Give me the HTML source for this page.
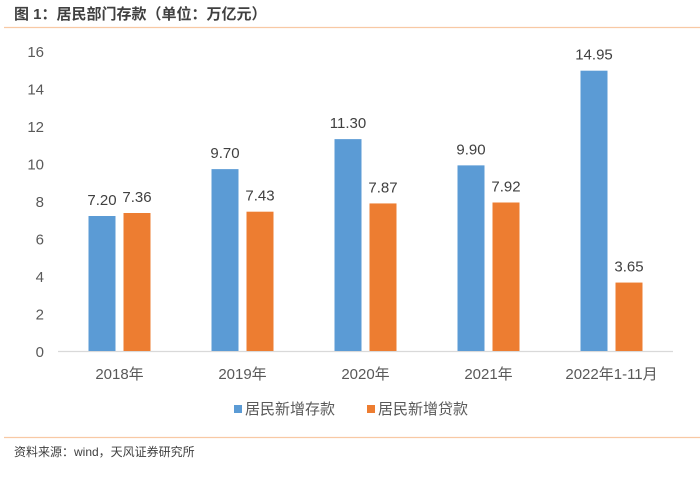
<!DOCTYPE html>
<html><head><meta charset="utf-8"><style>
body{margin:0;width:700px;height:474px;background:#fff;font-family:"Liberation Sans","Noto Sans CJK SC",sans-serif;overflow:hidden}
svg text{font-family:"Liberation Sans","Noto Sans CJK SC",sans-serif}
</style></head><body>
<svg width="700" height="474">
<text x="14" y="19" font-size="15" font-weight="bold" fill="#404040">图 1：居民部门存款（单位：万亿元）</text>
<line x1="4" y1="27.5" x2="700" y2="27.5" stroke="#f8c9a4" stroke-width="1.2"/>
<g id="plot"></g>
<g>
<rect x="234" y="405" width="8" height="8" fill="#5b9bd5"/>
<text x="245" y="414" font-size="15" fill="#595959">居民新增存款</text>
<rect x="367" y="405" width="8" height="8" fill="#ed7d31"/>
<text x="378" y="414" font-size="15" fill="#595959">居民新增贷款</text>
</g>
<line x1="4" y1="437.5" x2="700" y2="437.5" stroke="#f8c9a4" stroke-width="1.2"/>
<text x="14" y="456" font-size="12" fill="#404040">资料来源：wind，天风证券研究所</text>
</svg>
<script>
const categories=["2018年","2019年","2020年","2021年","2022年1-11月"];
const deposits=[7.20,9.70,11.30,9.90,14.95];
const loans=[7.36,7.43,7.87,7.92,3.65];
const yTicks=[0,2,4,6,8,10,12,14,16];
const NS="http://www.w3.org/2000/svg";
const g=document.getElementById("plot");
const x0=58,x1=673,yBase=351,yTop=51,yMax=16;
const y=v=>yBase-(v/yMax)*(yBase-yTop);
const band=(x1-x0)/categories.length;
const cx=i=>x0+band*(i+0.5);
function mk(tag,attrs,txt){const e=document.createElementNS(NS,tag);for(const k in attrs)e.setAttribute(k,attrs[k]);if(txt!==undefined)e.textContent=txt;g.appendChild(e);return e;}
yTicks.forEach(t=>{
 const e=mk("text",{x:44,y:y(t)+6,"font-size":15,fill:"#595959","text-anchor":"end"},String(t));
 
 
});
const ax=mk("line",{x1:x0,y1:yBase+0.5,x2:x1,y2:yBase+0.5,stroke:"#d9d9d9","stroke-width":1.2});


const bw=27,gap=8;
categories.forEach((c,i)=>{
 const lab=mk("text",{x:cx(i),y:yBase+28,"font-size":15,fill:"#595959","text-anchor":"middle"},c);
 
 
 const bx=cx(i)-gap/2-bw, ox=cx(i)+gap/2;
 const b=mk("rect",{x:bx,y:y(deposits[i]),width:bw,height:yBase-y(deposits[i]),fill:"#5b9bd5"});
 
 
 const o=mk("rect",{x:ox,y:y(loans[i]),width:bw,height:yBase-y(loans[i]),fill:"#ed7d31"});
 
 
 const dl=mk("text",{x:bx+bw/2,y:y(deposits[i])-11,"font-size":15,fill:"#404040","text-anchor":"middle"},deposits[i].toFixed(2));
 
 
 const ll=mk("text",{x:ox+bw/2,y:y(loans[i])-11,"font-size":15,fill:"#404040","text-anchor":"middle"},loans[i].toFixed(2));
 
 
});
</script>
</body></html>
